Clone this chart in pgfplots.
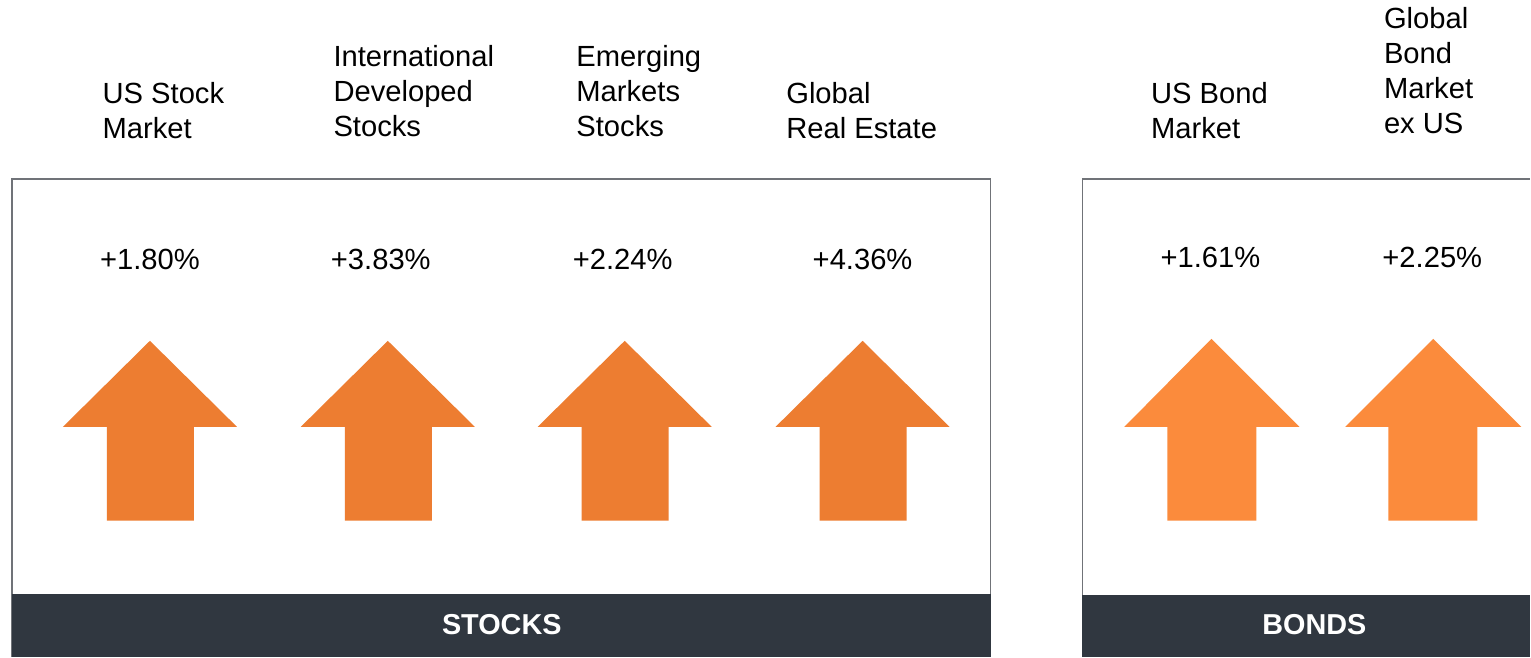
\documentclass[border=0pt]{standalone}
\usepackage{fontspec}
\setmainfont{Liberation Sans}
\usepackage{pgfplots}
\usepackage{pgfplotstable}
\pgfplotsset{compat=1.18}

\definecolor{stockor}{HTML}{ED7D31}
\definecolor{bondor}{HTML}{FB8B3C}
\definecolor{band}{HTML}{303740}
\definecolor{frame}{HTML}{707378}

\tikzset{lab/.style={anchor=north west, inner sep=0pt, align=left,
    font=\fontsize{8.3}{9.96}\selectfont}}

% returns (centre x, baseline y in px, value)
\pgfplotstableread{
x y val
150 270 1.80
381 270 3.83
623 270 2.24
863 270 4.36
1211 268 1.61
1433 268 2.25
}\pcts

\begin{document}
\begin{tikzpicture}
\begin{axis}[
  scale only axis,
  width=15.31cm, height=6.57cm,
  xmin=0, xmax=1531, ymin=0, ymax=657,
  y dir=reverse,
  hide axis,
  clip=false,
]
% invisible frame so the page is the whole canvas
\addplot[draw=none] coordinates {(0,0) (1531,657)};
% stocks panel
\addplot[fill=white, draw=frame, line width=0.15mm] coordinates {(12,657) (12,179) (991,179) (991,657)};
\addplot[fill=band, draw=none] coordinates {(12,594) (991,594) (991,657) (12,657)};
% bonds panel (runs off the right edge)
\addplot[fill=white, draw=none] coordinates {(1083,657) (1083,179) (1531,179) (1531,657)};
\addplot[draw=frame, line width=0.15mm] coordinates {(1083,657) (1083,179) (1531,179)};
\addplot[fill=band, draw=none] coordinates {(1083,595) (1531,595) (1531,657) (1083,657)};

% arrows
\addplot[fill=stockor, draw=none] coordinates {(63,427) (150,341) (237,427) (194,427) (194,521) (107,521) (107,427)};
\addplot[fill=stockor, draw=none] coordinates {(301,427) (388,341) (475,427) (432,427) (432,521) (345,521) (345,427)};
\addplot[fill=stockor, draw=none] coordinates {(538,427) (625,341) (712,427) (669,427) (669,521) (582,521) (582,427)};
\addplot[fill=stockor, draw=none] coordinates {(776,427) (863,341) (950,427) (907,427) (907,521) (820,521) (820,427)};
\addplot[fill=bondor, draw=none] coordinates {(1125,427) (1212,339) (1300,427) (1257,427) (1257,521) (1168,521) (1168,427)};
\addplot[fill=bondor, draw=none] coordinates {(1346,427) (1434,339) (1522,427) (1478,427) (1478,521) (1389,521) (1389,427)};

% returns
\addplot[only marks, mark=none,
  point meta=explicit symbolic,
  nodes near coords={+\pgfplotspointmeta\%},
  nodes near coords style={anchor=base, inner sep=0pt,
    font=\fontsize{8.3}{10}\selectfont},
] table[x=x, y=y, meta=val] {\pcts};

% category names
\node[lab] at (axis cs:102,82) {US Stock\\Market};
\node[lab] at (axis cs:333,45) {International\\Developed\\Stocks};
\node[lab] at (axis cs:576,45) {Emerging\\Markets\\Stocks};
\node[lab] at (axis cs:786,82) {Global\\Real Estate};
\node[lab] at (axis cs:1151,82) {US Bond\\Market};
\node[lab] at (axis cs:1384,7) {Global\\Bond\\Market\\ex US};

\node[anchor=base, inner sep=0pt, text=white,
  font=\fontsize{8.2}{10}\selectfont\bfseries] at (axis cs:502,635) {STOCKS};
\node[anchor=base, inner sep=0pt, text=white,
  font=\fontsize{8.2}{10}\selectfont\bfseries] at (axis cs:1315,635) {BONDS};
\end{axis}
\end{tikzpicture}
\end{document}
